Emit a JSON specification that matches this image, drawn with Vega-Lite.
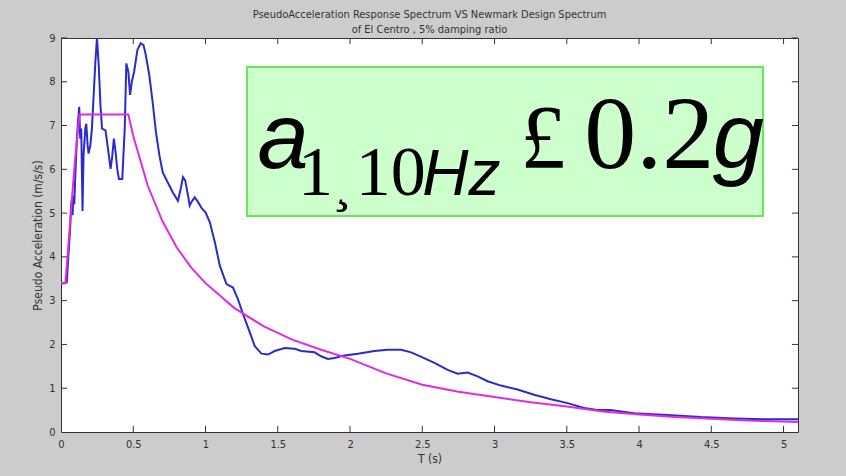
{
  "$schema": "https://vega.github.io/schema/vega-lite/v6.json",
  "width": 737,
  "height": 394,
  "autosize": {"type": "none"},
  "padding": {"left": 61, "top": 38, "right": 48, "bottom": 44},
  "background": "#cccccc",
  "title": {
    "text": ["PseudoAcceleration Response Spectrum VS Newmark Design Spectrum", "of El Centro , 5% damping ratio"],
    "fontSize": 11,
    "fontWeight": "normal",
    "font": "'Liberation Sans Narrow', 'DejaVu Sans Condensed', 'Liberation Sans'",
    "color": "#333333",
    "anchor": "middle",
    "frame": "group",
    "offset": -3,
    "lineHeight": 15
  },
  "datasets": {
    "spectrum": [
      {"T": 0, "A": 3.4}, {"T": 0.02, "A": 3.4}, {"T": 0.04, "A": 3.42}, {"T": 0.051, "A": 4.02},
      {"T": 0.063, "A": 4.63}, {"T": 0.07, "A": 5.17}, {"T": 0.075, "A": 5.3}, {"T": 0.08, "A": 4.95},
      {"T": 0.086, "A": 5.4}, {"T": 0.092, "A": 5.2}, {"T": 0.098, "A": 5.78}, {"T": 0.11, "A": 6.7},
      {"T": 0.118, "A": 7.1}, {"T": 0.126, "A": 7.43}, {"T": 0.133, "A": 6.7}, {"T": 0.14, "A": 6.93},
      {"T": 0.149, "A": 5.05}, {"T": 0.156, "A": 6.32}, {"T": 0.168, "A": 6.93}, {"T": 0.175, "A": 7.04},
      {"T": 0.184, "A": 6.55}, {"T": 0.191, "A": 6.36}, {"T": 0.203, "A": 6.55}, {"T": 0.214, "A": 6.93},
      {"T": 0.226, "A": 7.7}, {"T": 0.238, "A": 8.46}, {"T": 0.249, "A": 9.0}, {"T": 0.261, "A": 8.38},
      {"T": 0.273, "A": 7.47}, {"T": 0.284, "A": 6.93}, {"T": 0.308, "A": 6.89}, {"T": 0.319, "A": 6.62},
      {"T": 0.343, "A": 6.01}, {"T": 0.354, "A": 6.28}, {"T": 0.366, "A": 6.7}, {"T": 0.378, "A": 6.39},
      {"T": 0.389, "A": 6.01}, {"T": 0.401, "A": 5.78}, {"T": 0.424, "A": 5.78}, {"T": 0.441, "A": 6.93},
      {"T": 0.452, "A": 8.42}, {"T": 0.466, "A": 8.23}, {"T": 0.478, "A": 7.7}, {"T": 0.49, "A": 8.0},
      {"T": 0.506, "A": 8.23}, {"T": 0.529, "A": 8.73}, {"T": 0.552, "A": 8.88}, {"T": 0.571, "A": 8.84},
      {"T": 0.587, "A": 8.61}, {"T": 0.611, "A": 8.15}, {"T": 0.634, "A": 7.54}, {"T": 0.657, "A": 6.85},
      {"T": 0.681, "A": 6.32}, {"T": 0.704, "A": 5.93}, {"T": 0.739, "A": 5.7}, {"T": 0.774, "A": 5.47},
      {"T": 0.809, "A": 5.28}, {"T": 0.828, "A": 5.55}, {"T": 0.844, "A": 5.82}, {"T": 0.86, "A": 5.74},
      {"T": 0.879, "A": 5.4}, {"T": 0.891, "A": 5.17}, {"T": 0.902, "A": 5.25}, {"T": 0.925, "A": 5.36},
      {"T": 0.949, "A": 5.25}, {"T": 0.972, "A": 5.12}, {"T": 1.0, "A": 5.02}, {"T": 1.03, "A": 4.79},
      {"T": 1.065, "A": 4.33}, {"T": 1.099, "A": 3.8}, {"T": 1.145, "A": 3.38}, {"T": 1.19, "A": 3.3},
      {"T": 1.225, "A": 3.03}, {"T": 1.26, "A": 2.69}, {"T": 1.295, "A": 2.38}, {"T": 1.341, "A": 1.96},
      {"T": 1.387, "A": 1.79}, {"T": 1.433, "A": 1.77}, {"T": 1.479, "A": 1.85}, {"T": 1.548, "A": 1.92},
      {"T": 1.617, "A": 1.9}, {"T": 1.663, "A": 1.85}, {"T": 1.755, "A": 1.82}, {"T": 1.8, "A": 1.73},
      {"T": 1.847, "A": 1.67}, {"T": 1.893, "A": 1.69}, {"T": 1.962, "A": 1.75}, {"T": 2.054, "A": 1.79},
      {"T": 2.169, "A": 1.85}, {"T": 2.26, "A": 1.88}, {"T": 2.354, "A": 1.88}, {"T": 2.423, "A": 1.82},
      {"T": 2.49, "A": 1.72}, {"T": 2.584, "A": 1.58}, {"T": 2.676, "A": 1.42}, {"T": 2.745, "A": 1.33},
      {"T": 2.814, "A": 1.36}, {"T": 2.883, "A": 1.27}, {"T": 2.952, "A": 1.16}, {"T": 3.044, "A": 1.06},
      {"T": 3.159, "A": 0.97}, {"T": 3.274, "A": 0.85}, {"T": 3.39, "A": 0.75}, {"T": 3.505, "A": 0.66},
      {"T": 3.62, "A": 0.55}, {"T": 3.7, "A": 0.51}, {"T": 3.8, "A": 0.5}, {"T": 3.966, "A": 0.43},
      {"T": 4.197, "A": 0.39}, {"T": 4.428, "A": 0.34}, {"T": 4.659, "A": 0.31}, {"T": 4.89, "A": 0.29},
      {"T": 5.1, "A": 0.29}
    ],
    "design": [
      {"T": 0, "A": 3.4}, {"T": 0.03, "A": 3.4}, {"T": 0.045, "A": 4.0}, {"T": 0.068, "A": 5.0},
      {"T": 0.098, "A": 6.25}, {"T": 0.128, "A": 7.25}, {"T": 0.466, "A": 7.25}, {"T": 0.5, "A": 6.76},
      {"T": 0.6, "A": 5.63}, {"T": 0.7, "A": 4.83}, {"T": 0.8, "A": 4.22}, {"T": 0.9, "A": 3.76},
      {"T": 1.0, "A": 3.4}, {"T": 1.2, "A": 2.83}, {"T": 1.4, "A": 2.42}, {"T": 1.6, "A": 2.11},
      {"T": 1.8, "A": 1.88}, {"T": 2.0, "A": 1.67}, {"T": 2.25, "A": 1.34}, {"T": 2.5, "A": 1.08},
      {"T": 2.75, "A": 0.92}, {"T": 3.0, "A": 0.8}, {"T": 3.25, "A": 0.68}, {"T": 3.5, "A": 0.58},
      {"T": 3.75, "A": 0.47}, {"T": 4.0, "A": 0.4}, {"T": 4.25, "A": 0.34}, {"T": 4.5, "A": 0.3},
      {"T": 4.75, "A": 0.26}, {"T": 5.0, "A": 0.24}, {"T": 5.1, "A": 0.23}
    ],
    "xticks": [{"v": 0.5}, {"v": 1}, {"v": 1.5}, {"v": 2}, {"v": 2.5}, {"v": 3}, {"v": 3.5}, {"v": 4}, {"v": 4.5}, {"v": 5}],
    "yticks": [{"v": 1}, {"v": 2}, {"v": 3}, {"v": 4}, {"v": 5}, {"v": 6}, {"v": 7}, {"v": 8}, {"v": 9}],
    "one": [{"k": 1}]
  },
  "layer": [
    {
      "data": {"name": "spectrum"},
      "mark": {"type": "line", "color": "#2b2bcc", "strokeWidth": 2, "clip": true},
      "encoding": {
        "x": {
          "field": "T", "type": "quantitative",
          "scale": {"domain": [0, 5.1], "nice": false, "zero": false},
          "axis": {
            "orient": "bottom", "title": "T (s)", "values": [0, 0.5, 1, 1.5, 2, 2.5, 3, 3.5, 4, 4.5, 5],
            "format": "~g", "ticks": false, "domain": false, "labelPadding": 6, "titlePadding": 4, "labelFlush": false
          }
        },
        "y": {
          "field": "A", "type": "quantitative",
          "scale": {"domain": [0, 9], "nice": false, "zero": false},
          "axis": {
            "orient": "left", "title": "Pseudo Acceleration (m/s/s)", "values": [0, 1, 2, 3, 4, 5, 6, 7, 8, 9],
            "format": "~g", "ticks": false, "domain": false, "labelPadding": 6, "titlePadding": 4
          }
        }
      }
    },
    {
      "data": {"name": "design"},
      "mark": {"type": "line", "color": "#e22ae2", "strokeWidth": 2, "clip": true},
      "encoding": {
        "x": {"field": "T", "type": "quantitative"},
        "y": {"field": "A", "type": "quantitative"}
      }
    },
    {
      "data": {"name": "xticks"},
      "mark": {"type": "rule", "color": "#333333", "strokeWidth": 1},
      "encoding": {
        "x": {"field": "v", "type": "quantitative"},
        "y": {"datum": 0, "type": "quantitative"},
        "y2": {"datum": 0.14}
      }
    },
    {
      "data": {"name": "xticks"},
      "mark": {"type": "rule", "color": "#333333", "strokeWidth": 1},
      "encoding": {
        "x": {"field": "v", "type": "quantitative"},
        "y": {"datum": 9, "type": "quantitative"},
        "y2": {"datum": 8.86}
      }
    },
    {
      "data": {"name": "yticks"},
      "mark": {"type": "rule", "color": "#333333", "strokeWidth": 1},
      "encoding": {
        "y": {"field": "v", "type": "quantitative"},
        "x": {"datum": 0, "type": "quantitative"},
        "x2": {"datum": 0.042}
      }
    },
    {
      "data": {"name": "yticks"},
      "mark": {"type": "rule", "color": "#333333", "strokeWidth": 1},
      "encoding": {
        "y": {"field": "v", "type": "quantitative"},
        "x": {"datum": 5.1, "type": "quantitative"},
        "x2": {"datum": 5.058}
      }
    },
    {
      "data": {"name": "one"},
      "mark": {"type": "rect", "fill": "#ccffcc", "stroke": "#66e855", "strokeWidth": 2},
      "encoding": {
        "x": {"datum": 1.287, "type": "quantitative"},
        "x2": {"datum": 4.858},
        "y": {"datum": 8.337, "type": "quantitative"},
        "y2": {"datum": 4.934}
      }
    },
    {
      "data": {"name": "one"},
      "mark": {"type": "text", "text": "a", "font": "Liberation Sans", "fontStyle": "italic", "fontSize": 92, "align": "left", "baseline": "alphabetic", "color": "#000000"},
      "encoding": {"x": {"datum": 1.36, "type": "quantitative"}, "y": {"datum": 6.03, "type": "quantitative"}}
    },
    {
      "data": {"name": "one"},
      "mark": {"type": "text", "text": "1", "font": "Liberation Serif", "fontSize": 70, "align": "left", "baseline": "alphabetic", "color": "#000000"},
      "encoding": {"x": {"datum": 1.64, "type": "quantitative"}, "y": {"datum": 5.41, "type": "quantitative"}}
    },
    {
      "data": {"name": "one"},
      "mark": {"type": "text", "text": "¸", "font": "Liberation Serif", "fontSize": 56, "align": "left", "baseline": "alphabetic", "color": "#000000"},
      "encoding": {"x": {"datum": 1.88, "type": "quantitative"}, "y": {"datum": 5.3, "type": "quantitative"}}
    },
    {
      "data": {"name": "one"},
      "mark": {"type": "text", "text": "10", "font": "Liberation Serif", "fontSize": 70, "align": "left", "baseline": "alphabetic", "color": "#000000"},
      "encoding": {"x": {"datum": 2.04, "type": "quantitative"}, "y": {"datum": 5.41, "type": "quantitative"}}
    },
    {
      "data": {"name": "one"},
      "mark": {"type": "text", "text": "Hz", "font": "Liberation Sans", "fontStyle": "italic", "fontSize": 64, "align": "left", "baseline": "alphabetic", "color": "#000000"},
      "encoding": {"x": {"datum": 2.5, "type": "quantitative"}, "y": {"datum": 5.41, "type": "quantitative"}}
    },
    {
      "data": {"name": "one"},
      "mark": {"type": "text", "text": "£", "font": "Liberation Serif", "fontSize": 90, "align": "left", "baseline": "alphabetic", "color": "#000000"},
      "encoding": {"x": {"datum": 3.18, "type": "quantitative"}, "y": {"datum": 6.03, "type": "quantitative"}}
    },
    {
      "data": {"name": "one"},
      "mark": {"type": "text", "text": "0.2", "font": "Liberation Serif", "fontSize": 104, "align": "left", "baseline": "alphabetic", "color": "#000000"},
      "encoding": {"x": {"datum": 3.62, "type": "quantitative"}, "y": {"datum": 6.03, "type": "quantitative"}}
    },
    {
      "data": {"name": "one"},
      "mark": {"type": "text", "text": "g", "font": "Liberation Sans", "fontStyle": "italic", "fontSize": 92, "align": "left", "baseline": "alphabetic", "color": "#000000"},
      "encoding": {"x": {"datum": 4.51, "type": "quantitative"}, "y": {"datum": 6.03, "type": "quantitative"}}
    }
  ],
  "config": {
    "view": {"fill": "#ffffff", "stroke": "#333333", "strokeWidth": 1},
    "axis": {
      "domainColor": "#333333", "tickColor": "#333333", "grid": false,
      "labelFont": "'Liberation Sans Narrow', 'DejaVu Sans Condensed', 'Liberation Sans'",
      "labelFontSize": 11, "labelColor": "#333333",
      "titleFont": "'Liberation Sans Narrow', 'DejaVu Sans Condensed', 'Liberation Sans'",
      "titleFontSize": 12, "titleFontWeight": "normal", "titleColor": "#333333"
    }
  }
}
